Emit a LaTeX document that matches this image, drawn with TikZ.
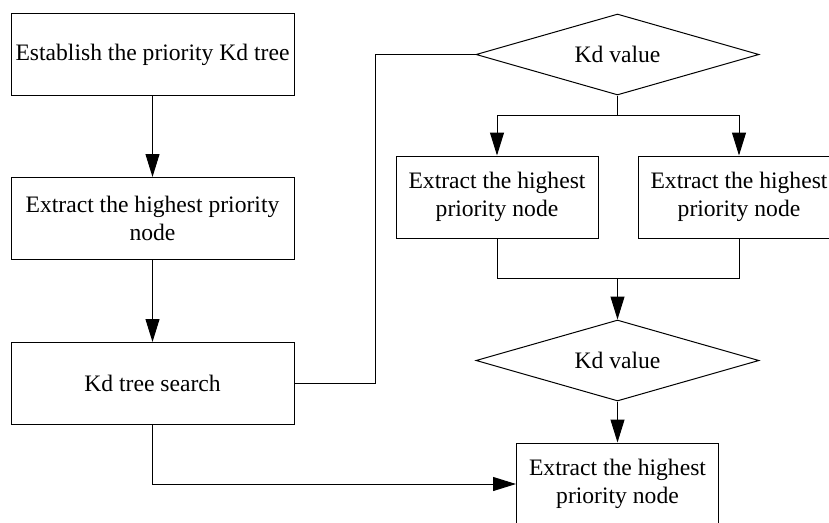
\documentclass[tikz,border=0pt]{standalone}
\usepackage{fontspec}
\setmainfont{Liberation Serif}
\usetikzlibrary{positioning,shapes.geometric,arrows.meta}

\begin{document}
\begin{tikzpicture}[x=1pt,y=-1pt,line width=1pt,
 font=\fontsize{23.6}{28}\selectfont,
 >={Triangle[length=23pt,width=14pt]},
 box/.style={draw,align=center,inner sep=0pt,minimum height=82pt},
 wide/.style={box,minimum width=283pt},
 narrow/.style={box,minimum width=202pt},
 choice/.style={draw,diamond,aspect=3.5,inner sep=0pt,minimum width=283pt,minimum height=81pt}]
 \useasboundingbox (0,0) rectangle (829,522);
 \clip (0,0) rectangle (829,522);
 % left column
 \node[wide](est) at (152.5,54.5){Establish the priority Kd tree};
 \node[wide,below=81pt of est](ext){Extract the highest priority\\node};
 \node[wide,below=82pt of ext](search){Kd tree search};
 \draw[->](est)--(ext);
 \draw[->](ext)--(search);
 % right part
 \node[choice](kd) at (617.5,54.5){Kd value};
 \node[narrow](exl) at (497,197){Extract the highest\\priority node};
 \node[narrow](exr) at (739,197){Extract the highest\\priority node};
 \node[choice](kdb) at (617.5,360.5){Kd value};
 \node[narrow](res) at (617.5,484){Extract the highest\\priority node};
 \draw(search.east)--++(81,0)|-(kd.west);
 \draw(kd.south)--++(0,20)coordinate(split);
 \draw[->](split)-|(exl.north);
 \draw[->](split)-|(exr.north);
 \coordinate (merge) at (617.5,278);
 \draw(exl.south)|-(merge);
 \draw(exr.south)|-(merge);
 \draw[->](merge)--(kdb.north);
 \draw[->](kdb)--(res);
 \draw[->](search.south)|-(res.west);
\end{tikzpicture}
\end{document}
